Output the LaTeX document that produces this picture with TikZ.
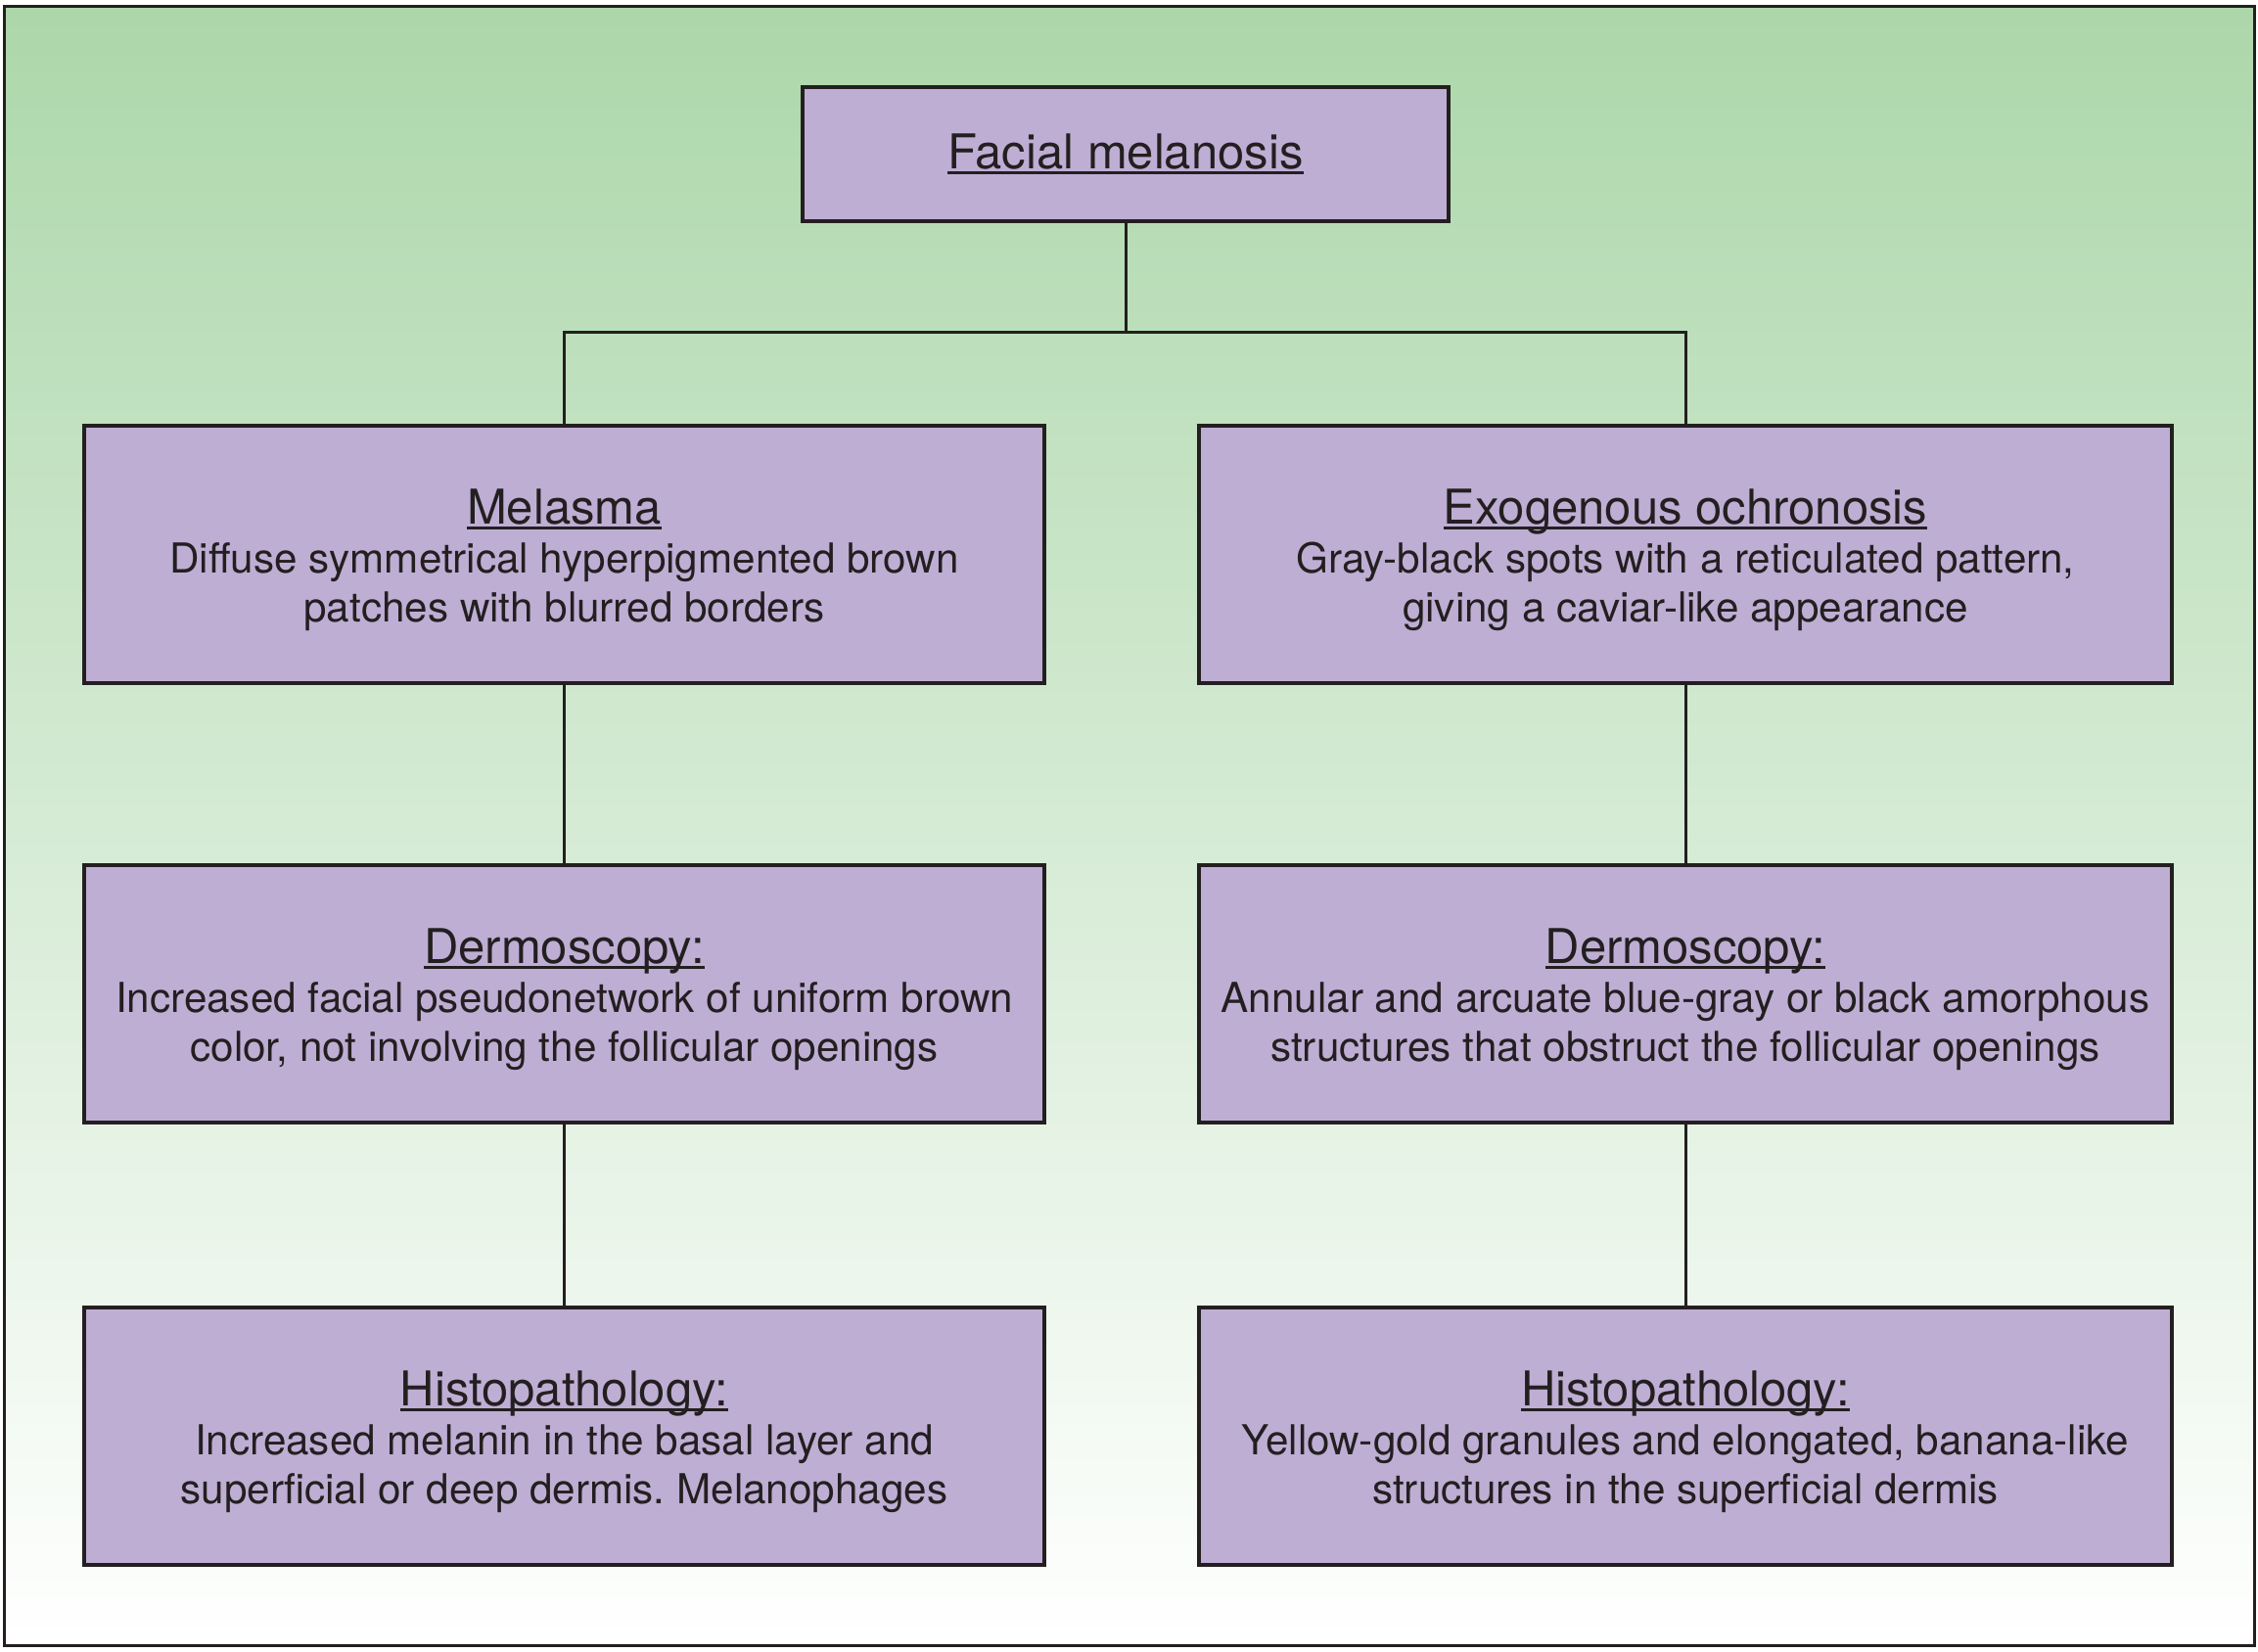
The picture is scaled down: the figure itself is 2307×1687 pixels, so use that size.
\documentclass[tikz,border=0pt]{standalone}
\usepackage{fontspec}
\setmainfont{TeX Gyre Heros}
\frenchspacing
\definecolor{bgtop}{RGB}{172,215,170}
\definecolor{boxfill}{RGB}{190,174,212}
\definecolor{ink}{RGB}{35,31,32}
\newcommand\ulbox[1]{\setbox0\hbox{#1}\rlap{\rule[-5pt]{\wd0}{2.6pt}}\box0}
\newcommand\ttl[1]{{\fontsize{49}{50}\selectfont\ulbox{#1}}}
\newcommand\cttl[1]{{\fontsize{49}{50}\selectfont\rule{0pt}{48pt}\ulbox{#1}}}
\tikzset{
  card/.style={draw=ink, line width=3.5pt, fill=boxfill, text=ink, align=center,
    inner sep=0pt, minimum height=263pt,
    font=\fontsize{42.2}{50}\selectfont\frenchspacing},
  leftcard/.style={card, minimum width=981pt},
  rightcard/.style={card, minimum width=994pt},
  conn/.style={draw=ink, line width=3pt}
}
\begin{document}
\begin{tikzpicture}[x=1pt,y=-1pt]
\useasboundingbox (0,0) rectangle (2307,1687);
\shade[top color=bgtop, bottom color=white] (4,6) rectangle (2303,1681);
\draw[ink, line width=3pt] (4,6) rectangle (2303,1681);

\node[card, minimum width=660pt, minimum height=137pt] (fm) at (1150,157.5) {\ttl{Facial melanosis}};

\node[leftcard] (mel) at (576.5,566.5) {\cttl{Melasma}\\Diffuse symmetrical hyperpigmented brown\\patches with blurred borders};
\node[rightcard] (exo) at (1722,566.5) {\cttl{Exogenous ochronosis}\\Gray-black spots with a reticulated pattern,\\giving a caviar-like appearance};

\node[leftcard] (dl) at (576.5,1015.5) {\cttl{Dermoscopy:}\\Increased facial pseudonetwork of uniform brown\\color, not involving the follicular openings};
\node[rightcard] (dr) at (1722,1015.5) {\cttl{Dermoscopy:}\\Annular and arcuate blue-gray or black amorphous\\structures that obstruct the follicular openings};

\node[leftcard] (hl) at (576.5,1467.5) {\cttl{Histopathology:}\\Increased melanin in the basal layer and\\superficial or deep dermis. Melanophages};
\node[rightcard] (hr) at (1722,1467.5) {\cttl{Histopathology:}\\Yellow-gold granules and elongated, banana-like\\structures in the superficial dermis};

\coordinate (j) at (1150,339);
\draw[conn] (fm.south) -- (j);
\draw[conn] (mel.north) -- (mel.north |- j) -- (exo.north |- j) -- (exo.north);
\draw[conn] (mel.south) -- (dl.north);
\draw[conn] (dl.south) -- (hl.north);
\draw[conn] (exo.south) -- (dr.north);
\draw[conn] (dr.south) -- (hr.north);
\end{tikzpicture}
\end{document}
